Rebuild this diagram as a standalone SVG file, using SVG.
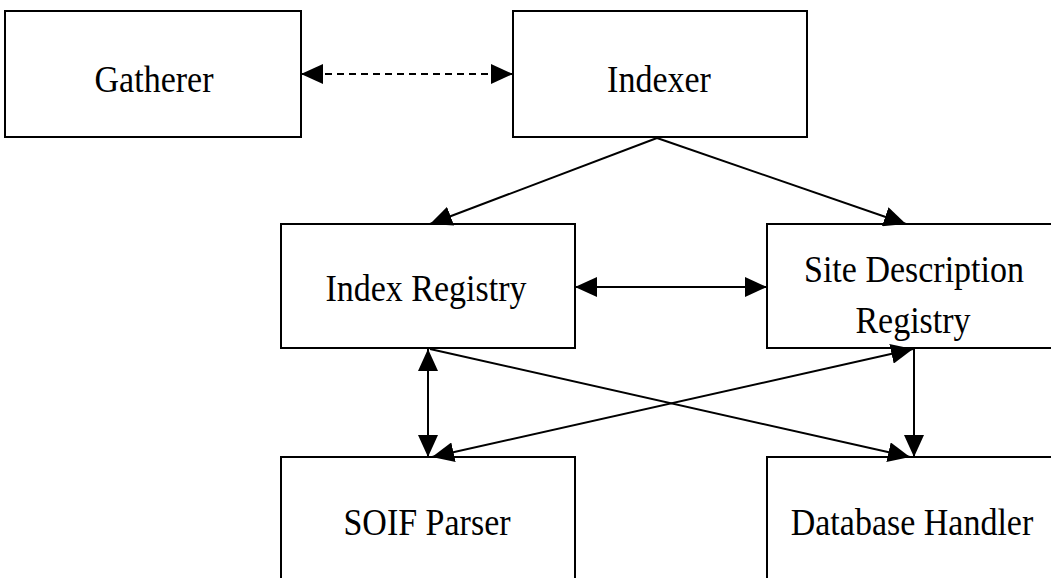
<svg xmlns="http://www.w3.org/2000/svg" width="1051" height="578" viewBox="0 0 1051 578">
  <style>
    .box { fill: #ffffff; stroke: #000000; stroke-width: 2; }
    .label { font-family: "Liberation Serif", "Times New Roman", serif; font-size: 34px; fill: #000000; text-anchor: middle; }
    .link { stroke: #000000; stroke-width: 2; fill: none; }
    .dashed { stroke-dasharray: 7 5; }
  </style>
  <defs>
    <marker id="head" markerUnits="userSpaceOnUse" markerWidth="22" markerHeight="20" refX="22" refY="10" orient="auto-start-reverse">
      <path d="M0,0 L22,10 L0,20 Z" fill="#000000"/>
    </marker>
  </defs>
  <rect width="1051" height="578" fill="#ffffff"/>

  <g id="gatherer">
    <rect class="box" x="5" y="11" width="296" height="126"/>
    <text class="label" transform="translate(154 92) scale(1 1.1)">Gatherer</text>
  </g>

  <g id="indexer">
    <rect class="box" x="513" y="11" width="294" height="126"/>
    <text class="label" transform="translate(659 92) scale(1 1.1)">Indexer</text>
  </g>

  <g id="index-registry">
    <rect class="box" x="281" y="224" width="294" height="124"/>
    <text class="label" transform="translate(426 301) scale(1 1.1)">Index Registry</text>
  </g>

  <g id="site-description-registry">
    <rect class="box" x="767" y="224" width="294" height="124"/>
    <text class="label" transform="translate(914 282) scale(1 1.1)">Site Description</text>
    <text class="label" transform="translate(913 333) scale(1 1.1)">Registry</text>
  </g>

  <g id="soif-parser">
    <rect class="box" x="281" y="457" width="294" height="140"/>
    <text class="label" transform="translate(427 535) scale(1 1.1)">SOIF Parser</text>
  </g>

  <g id="database-handler">
    <rect class="box" x="767" y="457" width="294" height="140"/>
    <text class="label" transform="translate(912 535) scale(1 1.1)">Database Handler</text>
  </g>

  <g id="connectors">
    <line class="link dashed" x1="301" y1="74" x2="513" y2="74" marker-start="url(#head)" marker-end="url(#head)"/>
    <line class="link" x1="657" y1="138" x2="430" y2="224" marker-end="url(#head)"/>
    <line class="link" x1="657" y1="138" x2="906" y2="224" marker-end="url(#head)"/>
    <line class="link" x1="575" y1="287" x2="767" y2="287" marker-start="url(#head)" marker-end="url(#head)"/>
    <line class="link" x1="428" y1="349" x2="428" y2="457" marker-start="url(#head)" marker-end="url(#head)"/>
    <line class="link" x1="914" y1="349" x2="914" y2="457" marker-end="url(#head)"/>
    <line class="link" x1="430" y1="349" x2="910" y2="457" marker-end="url(#head)"/>
    <line class="link" x1="432" y1="457" x2="913" y2="349" marker-start="url(#head)" marker-end="url(#head)"/>
  </g>
</svg>
